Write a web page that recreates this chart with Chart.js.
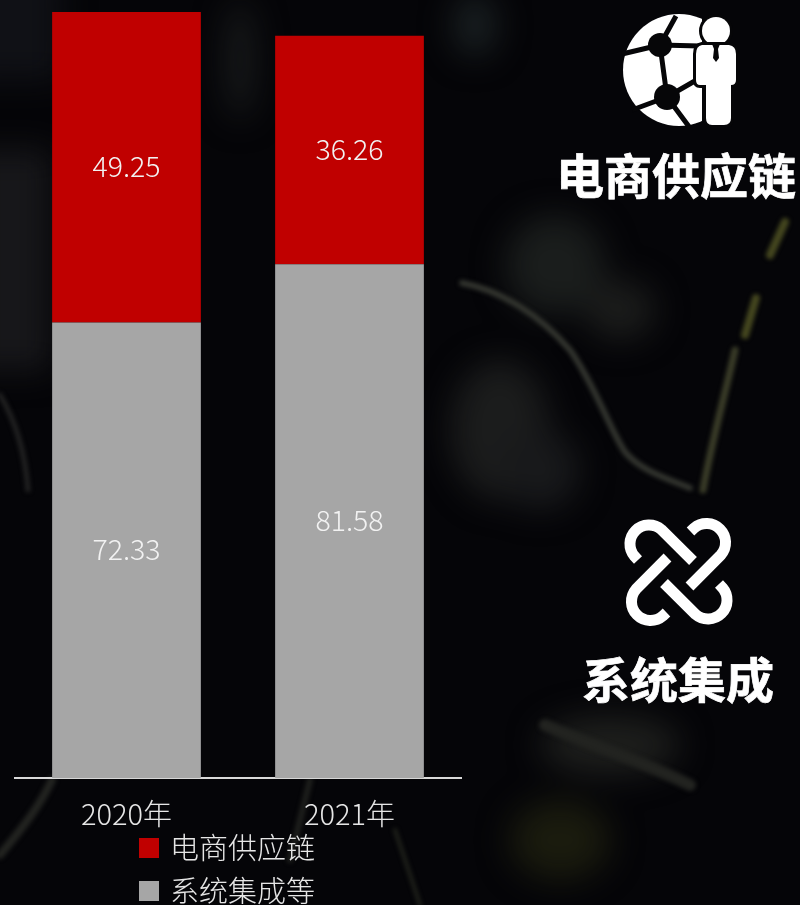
<!DOCTYPE html>
<html><head><meta charset="utf-8">
<style>
html,body{margin:0;padding:0;background:#050508;width:800px;height:905px;overflow:hidden}
#bg,#fg{position:absolute;left:0;top:0}
#wrap{position:absolute;left:0;top:0;width:800px;height:905px}
.title{position:absolute;color:#fff;font-family:"Noto Sans CJK SC";font-weight:700;white-space:nowrap;text-align:center;-webkit-text-stroke:0.7px #fff}
</style>
<script src="https://cdn.jsdelivr.net/npm/chart.js@4/dist/chart.umd.min.js"></script>
</head><body>
<svg id="bg" width="800" height="905" viewBox="0 0 800 905">
<defs><filter id="b" x="-50%" y="-50%" width="200%" height="200%" color-interpolation-filters="sRGB"><feGaussianBlur stdDeviation="16"/></filter>
<filter id="s" x="-30%" y="-30%" width="160%" height="160%" color-interpolation-filters="sRGB"><feGaussianBlur stdDeviation="2"/></filter></defs>
<rect width="800" height="905" fill="#050508"/>
<g filter="url(#b)">
<rect x="-30" y="-30" width="90" height="110" fill="#101116"/>
<rect x="-30" y="150" width="80" height="220" fill="#17171a"/>
<ellipse cx="555" cy="265" rx="50" ry="50" fill="#1a1d1c"/>
<ellipse cx="620" cy="310" rx="35" ry="30" fill="#1b1c1b"/>
<ellipse cx="500" cy="430" rx="50" ry="70" fill="#1b1c1c"/>
<ellipse cx="540" cy="470" rx="40" ry="40" fill="#18191b"/>
<ellipse cx="610" cy="745" rx="70" ry="30" fill="#1d1e1c"/>
<ellipse cx="560" cy="840" rx="50" ry="40" fill="#1a1b0e"/>
<ellipse cx="475" cy="25" rx="22" ry="32" fill="#191f21"/>
<ellipse cx="240" cy="60" rx="15" ry="60" fill="#181a1b"/>
</g>
<g filter="url(#s)" fill="none" stroke-linecap="round">
<path d="M462 283C500 290 540 315 570 350C595 385 610 430 625 452C640 470 665 478 690 488" stroke="#33352f" stroke-width="6"/>
<path d="M703 490C712 440 725 395 735 350" stroke="#3a3c28" stroke-width="7"/>
<path d="M745 335L756 298M770 255L785 222" stroke="#44461f" stroke-width="8"/>
<path d="M0 855C25 825 40 805 52 780" stroke="#222320" stroke-width="8"/>
<path d="M290 860L310 780" stroke="#1e1f1c" stroke-width="6"/>
<path d="M395 830C405 860 412 880 420 905" stroke="#20221b" stroke-width="4"/>
<path d="M545 725C590 745 640 760 690 785" stroke="#222320" stroke-width="12"/>
<path d="M0 395C15 420 25 450 28 490" stroke="#222222" stroke-width="5"/>
</g>
</svg>
<div id="wrap"><canvas id="c" width="800" height="905"></canvas></div>
<svg id="fg" width="800" height="905" viewBox="0 0 800 905">
<defs>
<clipPath id="gl"><rect x="600" y="0" width="102" height="140"/></clipPath>
</defs>
<g clip-path="url(#gl)">
<circle cx="679" cy="70" r="56" fill="#fff"/>
<g fill="none" stroke="#060608" stroke-width="5">
<path d="M660 45L676 16M660 45L622 54M660 45L667 97M660 45L700 46M667 97L632 110M667 97L700 78M667 97L690 128"/>
</g>
<circle cx="660" cy="45" r="12" fill="#060608"/>
<circle cx="667" cy="97" r="13" fill="#060608"/>
</g>
<g fill="#fff" stroke="#060608" stroke-width="6" paint-order="stroke">
<circle cx="716" cy="31" r="14"/>
<path d="M702 45H729Q736 46 736 54V80Q736 85 731 85V118Q731 125 724 125H712Q706 125 706 118V85H700Q696 85 696 80V54Q696 46 702 45Z"/>
</g>
<path d="M712 44H720L718 49L719 58L716 62L713 58L714 49Z" fill="#060608"/>
<g fill="none" stroke="#fff" stroke-width="11">
<path id="k" d="M638 560L634.6 556.4A19 19 0 0 1 661.4 529.6L693 561"/>
<use href="#k" transform="rotate(90 678.5 572)"/>
<use href="#k" transform="rotate(180 678.5 572)"/>
<use href="#k" transform="rotate(270 678.5 572)"/>
</g>
</svg>
<div class="title" style="left:556px;top:144px;width:240px;font-size:48px;line-height:58px">电商供应链</div>
<div class="title" style="left:582px;top:648px;width:192px;font-size:48px;line-height:58px">系统集成</div>
<script>
const categories = ["2020年", "2021年"];
const seriesNames = ["电商供应链", "系统集成等"];
const ecommerce = [49.25, 36.26];
const integration = [72.33, 81.58];
const FONT = '"Noto Sans CJK SC"';
const valueLabels = {
  id: 'valueLabels',
  afterDatasetsDraw(chart) {
    const ctx = chart.ctx;
    ctx.save();
    ctx.font = '300 28.5px ' + FONT;
    ctx.fillStyle = '#f2f2f2';
    ctx.textAlign = 'center';
    ctx.textBaseline = 'middle';
    chart.data.datasets.forEach((ds, i) => {
      chart.getDatasetMeta(i).data.forEach((bar, j) => {
        const p = bar.getProps(['x', 'y', 'base'], true);
        ctx.fillText(ds.data[j].toFixed(2), p.x, (p.y + p.base) / 2 - 1);
      });
    });
    ctx.restore();
  }
};
const placeLegend = {
  id: 'placeLegend',
  afterLayout(chart) {
    const l = chart.legend;
    const w = l.width, h = l.height;
    l.left = 128.5; l.top = 819.5; l.right = 128.5 + w; l.bottom = 819.5 + h;
  }
};
new Chart(document.getElementById('c'), {
  type: 'bar',
  data: {
    labels: categories,
    datasets: [
      { label: seriesNames[1], data: integration, backgroundColor: '#a6a6a6', stack: 's' },
      { label: seriesNames[0], data: ecommerce, backgroundColor: '#c00000', stack: 's' }
    ]
  },
  options: {
    responsive: false,
    animation: false,
    layout: { padding: { left: 15, right: 339, top: 0, bottom: 56 } },
    datasets: { bar: { categoryPercentage: 0.667, barPercentage: 1 } },
    scales: {
      x: {
        stacked: true,
        grid: { display: false, drawTicks: false },
        border: { color: '#d9d9d9', width: 2 },
        ticks: { color: '#e6e6e6', padding: 18, font: { family: FONT, size: 29, weight: 300 }, maxRotation: 0 }
      },
      y: { stacked: true, display: false, min: 0, max: 123.5 }
    },
    plugins: {
      tooltip: { enabled: false },
      legend: {
        position: 'chartArea',
        align: 'start',
        labels: {
          color: '#e6e6e6',
          boxWidth: 13,
          boxHeight: 13,
          padding: 14,
          font: { family: FONT, size: 29, weight: 300 },
          sort: (a, b) => b.datasetIndex - a.datasetIndex,
          generateLabels(chart) {
            return Chart.defaults.plugins.legend.labels.generateLabels(chart).map(item => {
              item.strokeStyle = item.fillStyle;
              item.lineWidth = 7;
              return item;
            });
          }
        }
      }
    }
  },
  plugins: [valueLabels, placeLegend]
});
</script>
</body></html>
